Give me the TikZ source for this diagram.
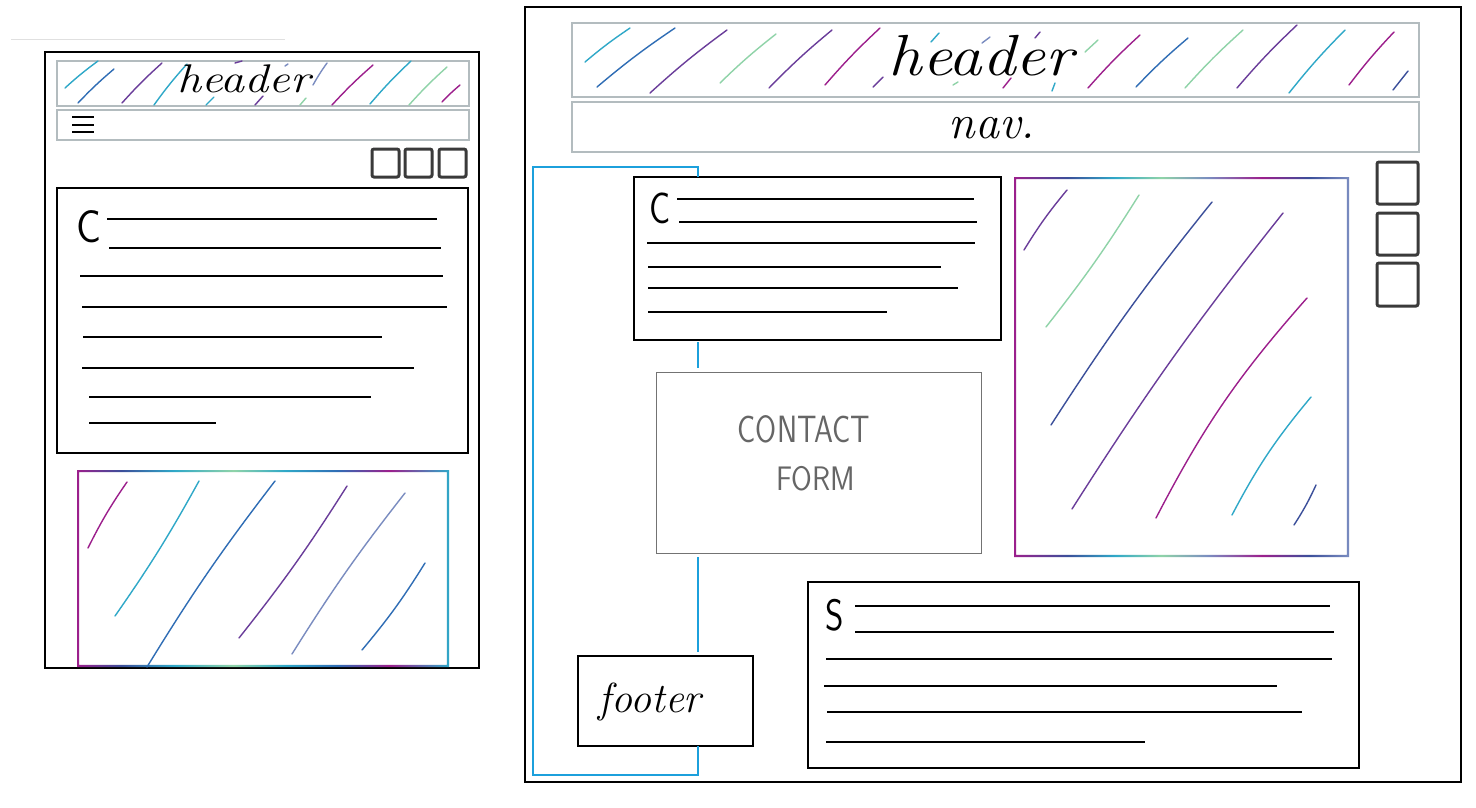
\documentclass[tikz,border=0pt]{standalone}
\usepackage{graphicx}
\usetikzlibrary{calc}

\definecolor{mag}{HTML}{9C1F8C}
\definecolor{purp}{HTML}{6A3D9A}
\definecolor{navy}{HTML}{3B4F9A}
\definecolor{bluep}{HTML}{2F6DB5}
\definecolor{teal}{HTML}{2FA8C8}
\definecolor{mint}{HTML}{8FD3A8}
\definecolor{slate}{HTML}{7A8CC0}
\definecolor{wireblue}{HTML}{1CA0DC}
\definecolor{boxgray}{HTML}{B3BCBF}
\definecolor{icongray}{HTML}{3A3A3A}

% glittery pen colours running along the image frames
\pgfdeclarehorizontalshading{phoneframe}{100bp}{color(0bp)=(mag); color(25bp)=(mag);
  color(31bp)=(navy); color(38bp)=(teal); color(46bp)=(mint); color(53bp)=(teal);
  color(60bp)=(bluep); color(67bp)=(mag); color(75bp)=(teal); color(100bp)=(teal)}
\pgfdeclarehorizontalshading{deskframe}{100bp}{color(0bp)=(mag); color(25bp)=(mag);
  color(33bp)=(navy); color(40bp)=(teal); color(47bp)=(mint); color(54bp)=(slate);
  color(62bp)=(mag); color(69bp)=(navy); color(75bp)=(slate); color(100bp)=(slate)}

\begin{document}
\begin{tikzpicture}[x=1pt,y=-1pt,
  box/.style={anchor=north west, inner sep=0pt, outer sep=0pt},
  frame/.style={box, draw=black, line width=1.6pt},
  graybox/.style={box, draw=boxgray, line width=1.4pt},
  formbox/.style={box, draw=black!55, line width=0.9pt},
  iconsq/.style={box, draw=icongray, line width=3pt, rounded corners=2pt},
  plain/.style={box},
  txtline/.style={draw=black, line width=1.5pt},
  pen/.style={draw=#1, line width=1.4pt, line cap=round},
  wire/.style={draw=wireblue, line width=2pt},
  hand/.style={font=\fontsize{#1}{#1}\selectfont\itshape, inner sep=0pt, anchor=base},
  letter/.style={font=\fontsize{#1}{#1}\selectfont\sffamily, inner sep=0pt, anchor=base},
  sketch/.style={font=\fontsize{#1}{#1}\selectfont\sffamily, text=black!60, inner sep=0pt, anchor=base}]

\fill[white] (0,0) rectangle (1476,807);
\useasboundingbox (0,0) rectangle (1476,807);

% faint rule at the top left
\draw[black!12, line width=1pt] (11,39) -- (285,39);

%% ---------------- phone layout ----------------
\node[frame, minimum width=434pt, minimum height=616pt] (phone) at (45,52) {};
\node[graybox, minimum width=412pt, minimum height=45pt] (lhead) at (57,61) {};
\node[graybox, minimum width=412pt, minimum height=30pt] (lnav) at (57,110) {};
\node[iconsq, minimum width=27pt, minimum height=28pt] (lsqa) at (372,149) {};
\node[iconsq, minimum width=27pt, minimum height=28pt] (lsqb) at (405,149) {};
\node[iconsq, minimum width=27pt, minimum height=28pt] (lsqc) at (439,149) {};
\node[frame, minimum width=411pt, minimum height=265pt] (lcontent) at (57,188) {};
\node[plain, minimum width=372pt, minimum height=197pt] (limage) at (77,470) {};

% header strokes
\draw[pen=teal]  (65,88) to[bend left=3] (98,61);
\draw[pen=bluep] (78,103) to[bend left=3] (114,69);
\draw[pen=purp]  (122,103) to[bend left=3] (162,63);
\draw[pen=teal]  (154,105) to[bend left=3] (187,64);
\draw[pen=teal]  (206,105) -- (214,97);
\draw[pen=purp]  (235,63) -- (242,61);
\draw[pen=purp]  (255,105) -- (263,96);
\draw[pen=slate] (285,66) -- (288,64);
\draw[pen=mint]  (300,105) -- (306,98);
\draw[pen=slate] (313,85) to[bend left=3] (327,63);
\draw[pen=mag]   (332,105) to[bend left=3] (373,65);
\draw[pen=teal]  (370,104) to[bend left=3] (411,61);
\draw[pen=mint]  (409,105) to[bend left=3] (447,67);
\draw[pen=mag]   (442,102) to[bend left=3] (460,85);
\node[hand=40] (lheadtxt) at (244,92) {\scalebox{1.2}[1]{header}};

% hamburger
\draw[txtline, line width=1.3pt] (72,117) -- (94,117) (72,125) -- (94,125) (72,132) -- (94,132);

% content block
\node[letter=46] (lc) at (89,242) {\scalebox{0.9}[1]{C}};
\draw[txtline] (107,219) -- (437,219);
\draw[txtline] (109,248) -- (441,248);
\draw[txtline] (80,276) -- (443,276);
\draw[txtline] (82,307) -- (447,307);
\draw[txtline] (83,337) -- (382,337);
\draw[txtline] (82,368) -- (414,368);
\draw[txtline] (89,397) -- (371,397);
\draw[txtline] (89,423) -- (216,423);

% image block
\shade[shading=phoneframe, even odd rule]
  (limage.north west) rectangle (limage.south east)
  ($(limage.north west)+(2.2,2.2)$) rectangle ($(limage.south east)+(-2.2,-2.2)$);
\draw[pen=mag]   (88,548) to[bend left=4] (127,482);
\draw[pen=teal]  (115,616) to[bend right=3] (199,481);
\draw[pen=bluep] (147,667) to[bend left=3] (275,481);
\draw[pen=purp]  (239,638) to[bend right=3] (347,486);
\draw[pen=slate] (292,654) to[bend left=3] (405,493);
\draw[pen=bluep] (362,650) to[bend right=4] (425,563);

%% ---------------- desktop layout ----------------
\node[frame, minimum width=936pt, minimum height=775pt] (desk) at (525,7) {};
\node[graybox, minimum width=847pt, minimum height=74pt] (rhead) at (572,23) {};
\node[graybox, minimum width=847pt, minimum height=50pt] (rnav) at (572,102) {};
\node[iconsq, minimum width=41pt, minimum height=42pt] (rsqa) at (1377,162) {};
\node[iconsq, minimum width=41pt, minimum height=42pt] (rsqb) at (1377,213) {};
\node[iconsq, minimum width=41pt, minimum height=43pt] (rsqc) at (1377,263) {};
\node[frame, minimum width=367pt, minimum height=163pt] (rcontent) at (634,177) {};
\node[formbox, minimum width=325pt, minimum height=181pt] (contact) at (656,372) {};
\node[plain, minimum width=335pt, minimum height=380pt] (rimage) at (1014,177) {};
\node[frame, minimum width=551pt, minimum height=186pt] (side) at (808,582) {};
\node[frame, minimum width=175pt, minimum height=90pt] (footer) at (578,656) {};

% header strokes
\draw[pen=teal]  (585,62) to[bend left=3] (630,28);
\draw[pen=bluep] (597,87) to[bend left=3] (675,28);
\draw[pen=purp]  (650,93) to[bend left=3] (727,30);
\draw[pen=mint]  (720,83) to[bend left=3] (776,34);
\draw[pen=purp]  (769,88) to[bend left=3] (832,30);
\draw[pen=mag]   (825,85) to[bend left=3] (880,28);
\draw[pen=purp]  (873,87) -- (883,77);
\draw[pen=teal]  (931,42) -- (939,33);
\draw[pen=slate] (982,43) -- (990,37);
\draw[pen=purp]  (1035,38) -- (1040,32);
\draw[pen=mint]  (953,85) -- (958,82);
\draw[pen=mag]   (1003,88) -- (1011,78);
\draw[pen=teal]  (1052,91) -- (1055,83);
\draw[pen=mint]  (1085,52) -- (1098,40);
\draw[pen=mag]   (1088,88) to[bend left=3] (1140,35);
\draw[pen=bluep] (1136,87) to[bend left=3] (1188,38);
\draw[pen=mint]  (1185,88) to[bend left=3] (1243,30);
\draw[pen=purp]  (1237,88) to[bend left=3] (1297,25);
\draw[pen=teal]  (1289,93) to[bend left=3] (1345,30);
\draw[pen=mag]   (1349,85) to[bend left=3] (1394,32);
\draw[pen=navy]  (1393,90) -- (1408,71);
\node[hand=58] (rheadtxt) at (981,75) {\scalebox{1.15}[1]{header}};
\node[hand=48] (rnavtxt) at (992,138) {nav.};

% content block
\node[letter=44] (rc) at (660,223) {\scalebox{0.8}[1]{C}};
\draw[txtline] (677,199) -- (974,199);
\draw[txtline] (679,222) -- (977,222);
\draw[txtline] (647,243) -- (975,243);
\draw[txtline] (648,267) -- (941,267);
\draw[txtline] (648,288) -- (958,288);
\draw[txtline] (648,312) -- (887,312);

% contact form
\node[sketch=38] (contacttxt) at (804,442) {\scalebox{0.8}[1]{CONTACT}};
\node[sketch=34] (formtxt) at (816,490) {\scalebox{0.88}[1]{FORM}};

% image block
\shade[shading=deskframe, even odd rule]
  (rimage.north west) rectangle (rimage.south east)
  ($(rimage.north west)+(2.2,2.2)$) rectangle ($(rimage.south east)+(-2.2,-2.2)$);
\draw[pen=purp]  (1024,250) to[bend left=4] (1067,190);
\draw[pen=mint]  (1046,327) to[bend right=3] (1139,195);
\draw[pen=navy]  (1051,425) to[bend left=3] (1212,202);
\draw[pen=purp]  (1072,509) to[bend left=3] (1283,213);
\draw[pen=mag]   (1156,518) to[bend left=7] (1307,298);
\draw[pen=teal]  (1232,515) to[bend left=6] (1311,397);
\draw[pen=navy]  (1294,525) to[bend right=4] (1316,485);

% side block
\node[letter=44] (stxt) at (835,630) {\scalebox{0.8}[1]{S}};
\draw[txtline] (855,606) -- (1330,606);
\draw[txtline] (855,632) -- (1334,632);
\draw[txtline] (826,659) -- (1332,659);
\draw[txtline] (824,686) -- (1277,686);
\draw[txtline] (827,712) -- (1302,712);
\draw[txtline] (826,742) -- (1145,742);

% footer
\node[hand=42] (footertxt) at (650,712) {footer};

% blue grouping bracket linking content, form and footer
\coordinate (railtop) at (698,167);
\coordinate (railfoot) at (533,775);
\draw[wire] (rcontent.north -| railtop) -- (railtop) -- (railtop -| railfoot)
  -- (railfoot) -- (railfoot -| railtop) -- (footer.south -| railtop);
\draw[wire, shorten <=2pt, shorten >=4pt] (rcontent.south -| railtop) -- (contact.north -| railtop);
\draw[wire, shorten <=4pt, shorten >=4pt] (contact.south -| railtop) -- (footer.north -| railtop);

\end{tikzpicture}
\end{document}
